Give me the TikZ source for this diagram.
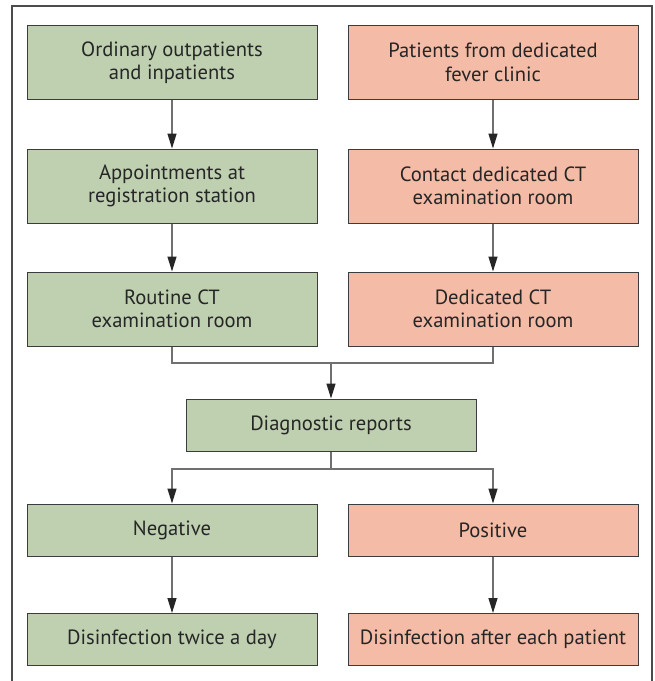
\documentclass[tikz,border=0pt]{standalone}
\usepackage{fontspec}
\setmainfont{PT Sans}
\usetikzlibrary{arrows.meta}
\definecolor{gfill}{HTML}{BFD0B1}
\definecolor{rfill}{HTML}{F4BCA7}
\definecolor{boxline}{HTML}{3C3C3C}
\definecolor{conn}{HTML}{707070}
\definecolor{txt}{HTML}{262626}
\tikzset{
  box/.style={draw=boxline, line width=1pt, minimum width=290pt, inner sep=0pt,
    align=center, text=txt, font=\fontsize{20.6}{23.5}\selectfont},
  gbox/.style={box, fill=gfill},
  rbox/.style={box, fill=rfill},
  tall/.style={minimum height=74pt},
  short/.style={minimum height=52pt},
  conline/.style={draw=conn, line width=1.3pt},
  arr/.style={conline, -{Triangle[length=15pt, width=9pt, fill=black!85, color=black!85]}}
}
\begin{document}
\begin{tikzpicture}[x=1pt, y=-1pt]
\useasboundingbox (0,0) rectangle (655,681);
\draw[draw=black!70, line width=1.2pt] (12,681) -- (12,6) -- (652,6) -- (652,681);
\node[gbox, tall] (g1) at (172,62.5) {Ordinary outpatients\\and inpatients};
\node[rbox, tall] (r1) at (493,62.5) {Patients from dedicated\\fever clinic};
\node[gbox, tall] (g2) at (172,186) {Appointments at\\registration station};
\node[rbox, tall] (r2) at (493,186) {Contact dedicated CT\\examination room};
\node[gbox, tall] (g3) at (172,309) {Routine CT\\examination room};
\node[rbox, tall] (r3) at (493,309) {Dedicated CT\\examination room};
\node[gbox, short] (d) at (331,425) {Diagnostic reports};
\node[gbox, short] (g5) at (172,530) {Negative};
\node[rbox, short] (r5) at (493,530) {Positive};
\node[gbox, short] (g6) at (172,639.5) {Disinfection twice a day};
\node[rbox, short] (r6) at (493,639.5) {Disinfection after each patient};
\coordinate (m1) at (331,363);
\coordinate (m2) at (331,469);
\draw[arr] (g1) -- (g2);
\draw[arr] (g2) -- (g3);
\draw[arr] (r1) -- (r2);
\draw[arr] (r2) -- (r3);
\draw[conline] (g3.south) |- (m1) -| (r3.south);
\draw[arr] (m1) -- (d);
\draw[conline] (d.south) -- (m2);
\draw[arr] (m2) -| (g5);
\draw[arr] (m2) -| (r5);
\draw[arr] (g5) -- (g6);
\draw[arr] (r5) -- (r6);
\end{tikzpicture}
\end{document}
